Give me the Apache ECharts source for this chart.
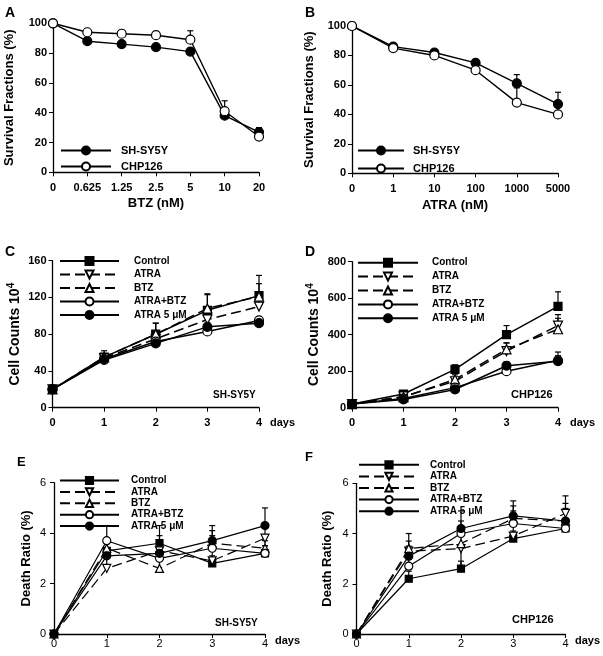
<!DOCTYPE html>
<html>
<head>
<meta charset="utf-8">
<script src="https://cdn.jsdelivr.net/npm/echarts@6/dist/echarts.min.js"></script>
<style>html,body{margin:0;padding:0;background:#fff;}#c{width:603px;height:656px;}</style>
</head>
<body>
<div id="c"></div>
<script>
// ---------- categories / tick labels ----------
const btzDoses = ['0', '0.625', '1.25', '2.5', '5', '10', '20'];
const atraDoses = ['0', '1', '10', '100', '1000', '5000'];
const days = ['0', '1', '2', '3', '4'];
const cellLines = ['SH-SY5Y', 'CHP126'];
const treatments = ['Control', 'ATRA', 'BTZ', 'ATRA+BTZ', 'ATRA 5 \u03bcM'];

// ---------- A: survival vs BTZ ----------
const aShSy5y = [100, 88, 86, 84, 81, 38, 27];
const aShSy5yErr = [0, 0, 0, 0, 0, 0, 3];
const aChp126 = [100, 94, 93, 92, 89, 41, 24];
const aChp126Err = [0, 0, 0, 0, 6, 7, 0];

// ---------- B: survival vs ATRA ----------
const bShSy5y = [100, 86, 82, 75, 61, 47];
const bShSy5yErr = [0, 0, 0, 0, 6, 8];
const bChp126 = [100, 85, 80, 70, 48, 40];
const bChp126Err = [0, 0, 0, 0, 10, 7];

// ---------- C: cell counts SH-SY5Y ----------
const cControl = [20, 55, 80, 106, 122];
const cAtra = [20, 54, 75, 96, 110];
const cBtz = [20, 55, 80, 108, 121];
const cAtraBtz = [20, 53, 72, 83, 95];
const cAtra5 = [20, 52, 70, 88, 92];
const cControlErr = [0, 7, 12, 18, 22];
const cAtraErr = [0, 3, 8, 12, 10];
const cBtzErr = [0, 4, 12, 15, 14];
const cAtraBtzErr = [0, 2, 4, 4, 4];
const cAtra5Err = [0, 2, 3, 4, 3];

// ---------- D: cell counts CHP126 ----------
const dControl = [20, 75, 210, 400, 555];
const dAtra = [20, 62, 145, 310, 450];
const dBtz = [20, 58, 155, 320, 430];
const dAtraBtz = [20, 50, 110, 200, 260];
const dAtra5 = [20, 45, 100, 230, 255];
const dControlErr = [0, 10, 25, 50, 80];
const dAtraErr = [0, 10, 20, 45, 60];
const dBtzErr = [0, 10, 25, 35, 60];
const dAtraBtzErr = [0, 5, 15, 20, 45];
const dAtra5Err = [0, 5, 10, 20, 30];

// ---------- E: death ratio SH-SY5Y ----------
const eControl = [0, 3.3, 3.6, 2.8, 3.2];
const eAtra = [0, 2.6, 3.3, 2.9, 3.8];
const eBtz = [0, 3.4, 2.6, 3.6, 3.4];
const eAtraBtz = [0, 3.7, 3.0, 3.4, 3.2];
const eAtra5 = [0, 3.1, 3.2, 3.7, 4.3];
const eControlErr = [0, 0.4, 0.7, 0.3, 0.3];
const eAtraErr = [0, 0.5, 0.6, 0.5, 0.4];
const eBtzErr = [0, 0.4, 0.5, 0.5, 0.3];
const eAtraBtzErr = [0, 0.6, 0.5, 0.5, 0.3];
const eAtra5Err = [0, 0.5, 0.5, 0.6, 0.7];

// ---------- F: death ratio CHP126 ----------
const fControl = [0, 2.2, 2.6, 3.8, 4.2];
const fAtra = [0, 3.3, 3.4, 3.9, 4.8];
const fBtz = [0, 3.4, 3.6, 4.6, 4.5];
const fAtraBtz = [0, 2.7, 4.0, 4.4, 4.2];
const fAtra5 = [0, 3.1, 4.2, 4.7, 4.5];
const fControlErr = [0, 0.3, 0.3, 0.3, 0.3];
const fAtraErr = [0, 0.4, -0.8, 0.4, 0.7];
const fBtzErr = [0, 0.6, 0.5, 0.5, 0.7];
const fAtraBtzErr = [0, 0.3, 0.5, 0.5, 0.3];
const fAtra5Err = [0, 0.4, 0.7, 0.6, 0.5];

// ---------- styling ----------
const FONT = 'Liberation Sans, Arial, sans-serif';
const INV_TRI = 'path://M0,0L10,0L5,9Z';
const DASH = [10, 5];
const treatStyle = [
  { symbol: 'rect', fill: '#000', dash: 'solid', size: 8 },
  { symbol: INV_TRI, fill: '#fff', dash: DASH, size: 9 },
  { symbol: 'triangle', fill: '#fff', dash: DASH, size: 9 },
  { symbol: 'circle', fill: '#fff', dash: 'solid', size: 9 },
  { symbol: 'circle', fill: '#000', dash: 'solid', size: 9 }
];
const cellStyle = [
  { symbol: 'circle', fill: '#000', dash: 'solid', size: 9 },
  { symbol: 'circle', fill: '#fff', dash: 'solid', size: 9 }
];

function lineSeries(idx, name, vals, st, lw) {
  return {
    type: 'line', name: name, xAxisIndex: idx, yAxisIndex: idx, data: vals,
    symbol: st.symbol, symbolSize: st.size, showSymbol: true, z: 3,
    lineStyle: { color: '#000', width: lw || 1.4, type: st.dash },
    itemStyle: { color: st.fill, borderColor: '#000', borderWidth: 1.2 },
    emphasis: { disabled: true }, silent: true
  };
}
function errSeries(idx, vals, errs) {
  return {
    type: 'custom', xAxisIndex: idx, yAxisIndex: idx, z: 2, silent: true,
    data: vals.map((v, i) => [i, v, errs[i]]),
    encode: { x: 0, y: 1 },
    renderItem: function (params, api) {
      const i = api.value(0), v = api.value(1), e = api.value(2);
      if (!e) return null;
      const p0 = api.coord([i, v]);
      const p1 = api.coord([i, v + e]);
      return {
        type: 'group', children: [
          { type: 'line', shape: { x1: p0[0], y1: p0[1], x2: p1[0], y2: p1[1] }, style: { stroke: '#000', lineWidth: 1.2 } },
          { type: 'line', shape: { x1: p1[0] - 3, y1: p1[1], x2: p1[0] + 3, y2: p1[1] }, style: { stroke: '#000', lineWidth: 1.2 } }
        ]
      };
    }
  };
}

const grids = [
  { left: 53, top: 23.3, width: 206, height: 149 },
  { left: 352, top: 26, width: 206, height: 147.3 },
  { left: 52.5, top: 260.7, width: 206.5, height: 147 },
  { left: 352, top: 261.7, width: 206, height: 146 },
  { left: 54, top: 482.7, width: 211, height: 151.3 },
  { left: 356.5, top: 483.3, width: 209, height: 150.7 }
];

const axisLine = { show: true, onZero: false, lineStyle: { color: '#000', width: 1.3 } };
const axisTick = { show: true, inside: false, length: 4, lineStyle: { color: '#000', width: 1 } };
const boldLbl = { color: '#000', fontFamily: FONT, fontWeight: 'bold', fontSize: 11 };
const regLbl = { color: '#000', fontFamily: FONT, fontWeight: 'normal', fontSize: 11 };
const nameStyle = { color: '#000', fontFamily: FONT, fontWeight: 'bold', fontSize: 13 };

function xAx(idx, cats, bold, name, nameGap) {
  return {
    type: 'category', gridIndex: idx, data: cats, boundaryGap: false,
    axisLine: axisLine, axisTick: Object.assign({ alignWithLabel: true, interval: 0 }, axisTick),
    axisLabel: Object.assign({ margin: bold ? 10 : 4, interval: 0, hideOverlap: false }, bold ? boldLbl : regLbl),
    splitLine: { show: false },
    name: name || '', nameLocation: 'middle', nameGap: nameGap || 0, nameTextStyle: nameStyle
  };
}
function yAx(idx, max, interval, bold, name, nameGap, extra) {
  return Object.assign({
    type: 'value', gridIndex: idx, min: 0, max: max, interval: interval,
    axisLine: axisLine, axisTick: axisTick,
    axisLabel: Object.assign({ margin: bold ? 6 : 8 }, bold ? boldLbl : regLbl),
    splitLine: { show: false },
    name: name, nameLocation: 'middle', nameGap: nameGap, nameTextStyle: nameStyle
  }, extra || {});
}

const cellCountName = {
  rich: {
    m: { fontFamily: FONT, fontWeight: 'bold', fontSize: 14, color: '#000', lineHeight: 18 },
    s: { fontFamily: FONT, fontWeight: 'bold', fontSize: 10, color: '#000', verticalAlign: 'top', lineHeight: 18 }
  }
};

const series = [];
// A
series.push(errSeries(0, aShSy5y, aShSy5yErr));
series.push(errSeries(0, aChp126, aChp126Err));
series.push(lineSeries(0, cellLines[0], aShSy5y, cellStyle[0]));
series.push(lineSeries(0, cellLines[1], aChp126, cellStyle[1]));
// B
series.push(errSeries(1, bShSy5y, bShSy5yErr));
series.push(errSeries(1, bChp126, bChp126Err));
series.push(lineSeries(1, cellLines[0], bShSy5y, cellStyle[0]));
series.push(lineSeries(1, cellLines[1], bChp126, cellStyle[1]));
// C-F
const panelData = [
  [cControl, cAtra, cBtz, cAtraBtz, cAtra5],
  [dControl, dAtra, dBtz, dAtraBtz, dAtra5],
  [eControl, eAtra, eBtz, eAtraBtz, eAtra5],
  [fControl, fAtra, fBtz, fAtraBtz, fAtra5]
];
const panelErr = [
  [cControlErr, cAtraErr, cBtzErr, cAtraBtzErr, cAtra5Err],
  [dControlErr, dAtraErr, dBtzErr, dAtraBtzErr, dAtra5Err],
  [eControlErr, eAtraErr, eBtzErr, eAtraBtzErr, eAtra5Err],
  [fControlErr, fAtraErr, fBtzErr, fAtraBtzErr, fAtra5Err]
];
panelData.forEach((arrs, p) => {
  const idx = p + 2;
  arrs.forEach((vals, k) => series.push(errSeries(idx, vals, panelErr[p][k])));
  arrs.forEach((vals, k) => {
    const st = Object.assign({}, treatStyle[k]);
    if (idx >= 4) st.size = st.size - 1;
    series.push(lineSeries(idx, treatments[k], vals, st, idx >= 4 ? 1.2 : 1.5));
  });
});

function legend(names, left, top, w, h, gap, pad, fs) {
  return {
    orient: 'vertical', left: left, top: top, padding: 0,
    itemWidth: w, itemHeight: h, itemGap: gap, selectedMode: false,
    data: names,
    textStyle: { fontFamily: FONT, fontWeight: 'bold', fontSize: fs, color: '#000', padding: [0, 0, 0, pad], lineHeight: h }
  };
}

function txt(x, y, s, size, weight, align) {
  return {
    type: 'text', x: x, y: y, silent: true,
    style: { text: s, fill: '#000', font: (weight || 'bold') + ' ' + size + 'px ' + FONT, textAlign: align || 'left', textVerticalAlign: 'middle' }
  };
}

const option = {
  animation: false,
  backgroundColor: '#fff',
  grid: grids,
  xAxis: [
    xAx(0, btzDoses, true, 'BTZ (nM)', 25),
    xAx(1, atraDoses, true, 'ATRA (nM)', 26),
    xAx(2, days, true),
    xAx(3, days, true),
    xAx(4, days, false),
    xAx(5, days, false)
  ],
  yAxis: [
    yAx(0, 100, 20, true, 'Survival Fractions (%)', 37),
    yAx(1, 100, 20, true, 'Survival Fractions (%)', 36),
    yAx(2, 160, 40, true, '{m|Cell Counts 10}{s|4}', 28, { nameTextStyle: cellCountName }),
    yAx(3, 800, 200, true, '{m|Cell Counts 10}{s|4}', 29, { nameTextStyle: cellCountName }),
    yAx(4, 6, 2, false, 'Death Ratio (%)', 21),
    yAx(5, 6, 2, false, 'Death Ratio (%)', 23)
  ],
  legend: [
    legend(cellLines, 60, 145, 50, 10, 5, 5, 11),
    legend(cellLines, 357, 145, 46, 10, 7, 4, 11),
    legend(treatments, 59, 256, 59, 10, 3.5, 10, 10),
    legend(treatments, 357, 257.7, 60, 10, 3.9, 9, 10),
    legend(treatments, 59, 475.5, 59, 9, 1.4, 7, 10),
    legend(treatments, 358, 459.8, 60, 9, 1.6, 6, 10)
  ],
  series: series,
  graphic: [
    txt(5, 13, 'A', 14), txt(305, 13, 'B', 14),
    txt(5, 252, 'C', 14), txt(305, 252, 'D', 14),
    txt(17, 462, 'E', 13), txt(305, 457, 'F', 13),
    txt(270, 423, 'days', 11), txt(570, 423, 'days', 11),
    txt(275, 641, 'days', 11), txt(575, 641, 'days', 11),
    txt(213, 395, cellLines[0], 10), txt(511, 395, cellLines[1], 11),
    txt(215, 623, cellLines[0], 10), txt(512, 620, cellLines[1], 11)
  ]
};

const chart = echarts.init(document.getElementById('c'), null, { renderer: 'canvas' });
chart.setOption(option);
</script>
</body>
</html>
